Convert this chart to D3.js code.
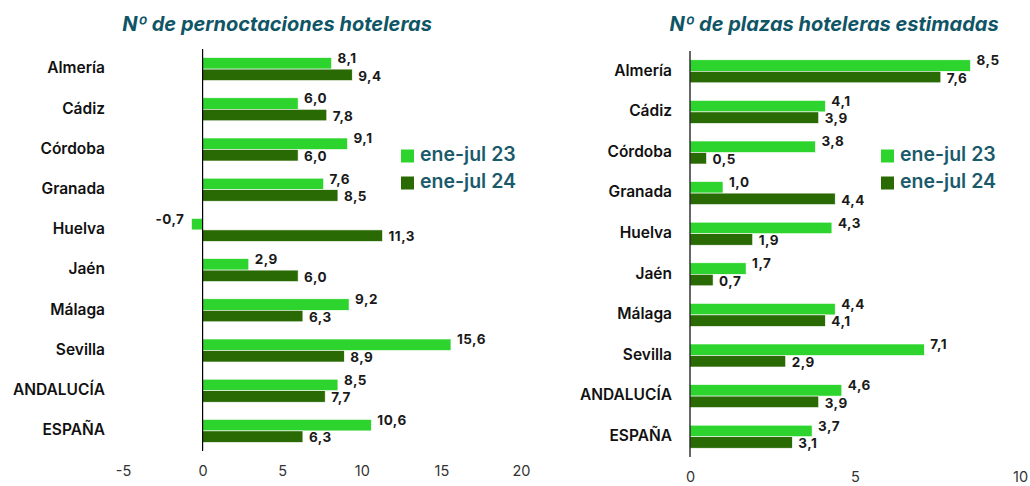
<!DOCTYPE html>
<html>
<head>
<meta charset="utf-8">
<script src="https://cdn.jsdelivr.net/npm/d3@7"></script>
<style>
  body { margin: 0; background: #fff; }
  svg { font-family: Inter, "Open Sans", sans-serif; }
</style>
</head>
<body>
<svg id="chart" width="1030" height="486"></svg>
<script>
// data
const categories = ["Almería", "Cádiz", "Córdoba", "Granada", "Huelva", "Jaén", "Málaga", "Sevilla", "ANDALUCÍA", "ESPAÑA"];
const seriesNames = ["ene-jul 23", "ene-jul 24"];
const pernoct23 = [8.1, 6.0, 9.1, 7.6, -0.7, 2.9, 9.2, 15.6, 8.5, 10.6];
const pernoct24 = [9.4, 7.8, 6.0, 8.5, 11.3, 6.0, 6.3, 8.9, 7.7, 6.3];
const plazas23 = [8.5, 4.1, 3.8, 1.0, 4.3, 1.7, 4.4, 7.1, 4.6, 3.7];
const plazas24 = [7.6, 3.9, 0.5, 4.4, 1.9, 0.7, 4.1, 2.9, 3.9, 3.1];
const ticksLeft = [-5, 0, 5, 10, 15, 20];
const ticksRight = [0, 5, 10];

const colors = ["#2ed42e", "#2a6a04"];
const teal = "#0f5566";

const svg = d3.select("#chart");
// comma decimals, plain hyphen for negatives
const fmt = v => d3.format(".1f")(v).replace(".", ",").replace("\u2212", "-");

function drawPanel(opt) {
    const g = svg.append("g");
    const x = d3.scaleLinear().domain(opt.domain).range(opt.xRange);
    const y = d3.scaleBand().domain(categories).range(opt.yRange).padding(0);
    const barH = 11.5;

    // title
    g.append("text")
        .attr("x", opt.titleX).attr("y", 26)
        .attr("text-anchor", "middle").attr("dominant-baseline", "middle")
        .attr("font-size", opt.titleSize).attr("font-weight", "bold")
        .attr("font-style", "italic").attr("fill", teal)
        .text(opt.title);

    // category labels
    g.selectAll(".cat").data(categories).enter().append("text")
        .attr("x", opt.labelX)
        .attr("y", d => y(d) + y.bandwidth() / 2)
        .attr("text-anchor", "end").attr("dominant-baseline", "middle")
        .attr("font-size", "15.5px").attr("font-weight", "600").attr("fill", "#111")
        .text(d => d);

    // bars
    [opt.s1, opt.s2].forEach((vals, si) => {
        const top = c => y(c) + y.bandwidth() / 2 - barH + si * barH;
        g.selectAll(".bar" + si).data(vals).enter().append("rect")
            .attr("x", d => x(Math.min(0, d)))
            .attr("y", (d, i) => top(categories[i]))
            .attr("width", d => Math.abs(x(d) - x(0)))
            .attr("height", barH)
            .attr("fill", colors[si])
            .attr("stroke", "#ffffff").attr("stroke-width", 0.6);

        g.selectAll(".lab" + si).data(vals).enter().append("text")
            .attr("x", d => d < 0 ? x(d) - 7 : x(d) + 6)
            .attr("y", (d, i) => top(categories[i]) + barH / 2 + (si === 0 ? -4 : 2))
            .attr("text-anchor", d => d < 0 ? "end" : "start")
            .attr("dominant-baseline", "middle")
            .attr("font-size", "13.5px").attr("font-weight", "bold").attr("fill", "#1a1a1a")
            .attr("letter-spacing", "0.5px")
            .text(d => fmt(d));
    });

    // zero line
    g.append("line")
        .attr("x1", x(0)).attr("x2", x(0))
        .attr("y1", opt.yRange[0]).attr("y2", opt.yRange[1])
        .attr("stroke", "#000").attr("stroke-width", 1.2);

    // x axis (labels only)
    const ax = g.append("g")
        .attr("transform", "translate(0," + opt.axisY + ")")
        .call(d3.axisBottom(x).tickValues(opt.ticks).tickSize(0).tickPadding(0)
            .tickFormat(d => String(d)));
    ax.select(".domain").remove();
    ax.selectAll("text")
        .attr("font-size", "14.5px").attr("fill", "#333")
        .style("font-family", "Inter, sans-serif");

    // legend
    seriesNames.forEach((name, i) => {
        const ly = opt.legendY + i * 27;
        g.append("rect")
            .attr("x", opt.legendX).attr("y", ly - 6.5)
            .attr("width", 13).attr("height", 13)
            .attr("fill", colors[i]);
        g.append("text")
            .attr("x", opt.legendX + 19).attr("y", ly)
            .attr("dominant-baseline", "middle")
            .attr("font-size", "19.5px").attr("font-weight", "600")
            .attr("fill", "#1b5a6a")
            .text(name);
    });
}

drawPanel({
    title: "Nº de pernoctaciones hoteleras", titleX: 277, titleSize: "20px",
    domain: [-5, 20], xRange: [123, 521], yRange: [49, 451],
    labelX: 105, axisY: 466, ticks: ticksLeft,
    s1: pernoct23, s2: pernoct24,
    legendX: 401, legendY: 156
});

drawPanel({
    title: "Nº de plazas hoteleras estimadas", titleX: 834, titleSize: "20px",
    domain: [0, 10], xRange: [690, 1020], yRange: [51, 457],
    labelX: 672, axisY: 472, ticks: ticksRight,
    s1: plazas23, s2: plazas24,
    legendX: 881, legendY: 156
});
</script>
</body>
</html>
